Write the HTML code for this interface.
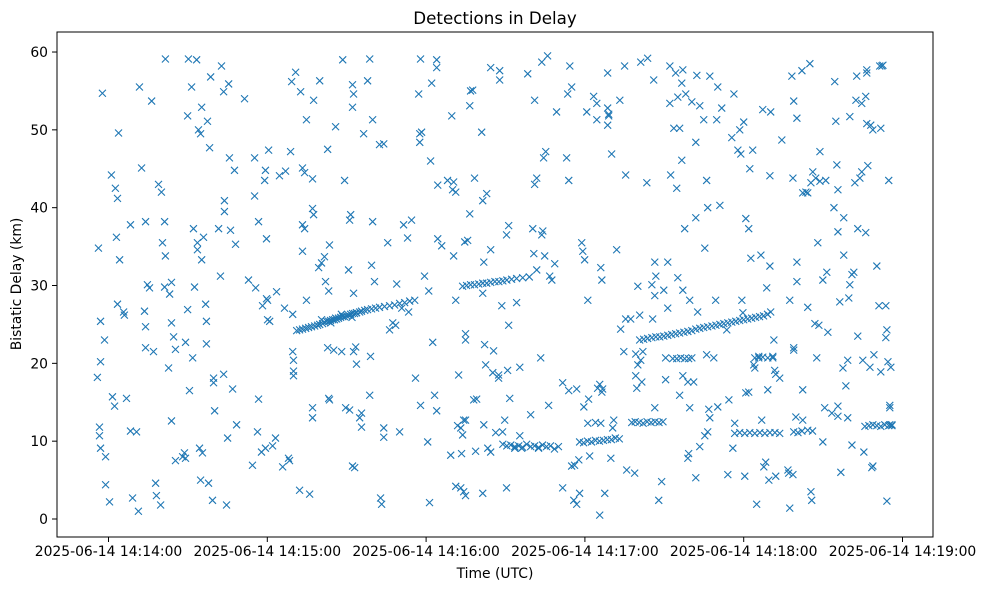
<!DOCTYPE html>
<html><head><meta charset="utf-8"><style>
body{margin:0;background:#fff;}
svg{display:block;font-family:"DejaVu Sans","Liberation Sans",sans-serif;}
</style></head><body>
<svg id="chart" width="986" height="590" viewBox="0 0 986 590" xmlns="http://www.w3.org/2000/svg">
<rect width="986" height="590" fill="#fff"/>
<text x="495" y="24" text-anchor="middle" font-size="16.7">Detections in Delay</text>
<text x="495" y="578" text-anchor="middle" font-size="13.9">Time (UTC)</text>
<text transform="translate(21,284) rotate(-90)" text-anchor="middle" font-size="13.9">Bistatic Delay (km)</text>
<g id="ticks"></g>
<g id="marks"></g>
<rect x="57" y="32" width="876" height="505" fill="none" stroke="#000" stroke-width="1"/>
</svg>
<script>
const xTickSeconds = [0, 60, 120, 180, 240, 300];
const xTickLabels = ["2025-06-14 14:14:00","2025-06-14 14:15:00","2025-06-14 14:16:00","2025-06-14 14:17:00","2025-06-14 14:18:00","2025-06-14 14:19:00"];
const yTickValues = [0, 10, 20, 30, 40, 50, 60];
// seconds after 14:14:00 UTC, bistatic delay km
const scatterDetections = [
[-4.2,18.2],[-3.8,34.8],[-3.4,11.8],[-3.4,10.7],[-3.0,9.1],[-3.0,20.2],[-3.0,25.4],[-2.3,54.7],[-1.5,23],[-1.1,8],[-1.1,4.4],[0.4,2.2],[1.1,44.2],[1.5,15.7],[2.3,14.5],[2.6,42.5],[3.4,41.2],[3.8,49.6],[3.0,36.2],[3.4,27.6],[4.2,33.3],[5.7,26.6],[6.0,26.2],[6.8,15.5],[8.3,37.8],[8.3,11.3],[9.1,2.7],[10.6,11.2],[11.3,1.0],[11.7,55.5],[12.5,45.1],[13.6,26.7],[14.0,24.7],[14.0,22.0],[14.0,38.2],[14.7,30.1],[15.5,29.7],[16.3,53.7],[17.0,21.5],[17.8,4.6],[18.1,3.0],[18.9,43.0],[19.7,1.8],[20.0,42.0],[20.4,35.5],[21.2,38.2],[21.5,59.1],[21.5,33.8],[21.2,29.8],[22.7,19.4],[23.1,28.9],[23.8,30.4],[23.8,12.6],[23.8,25.2],[24.6,23.4],[25.3,7.5],[25.3,21.8],[28.0,8.0],[28.7,8.5],[29.1,22.7],[29.1,7.8],[29.9,26.9],[29.9,51.8],[30.2,59.1],[30.6,16.5],[31.4,55.5],[31.8,20.7],[32.1,37.3],[32.5,29.8],[33.3,59.0],[33.6,35.5],[33.6,34.6],[34.0,50.0],[34.8,49.5],[34.4,9.1],[35.2,52.9],[35.2,33.3],[34.8,5.0],[35.5,8.5],[35.9,36.2],[36.7,27.6],[37.0,25.4],[37.0,22.5],[37.4,51.1],[38.2,47.7],[37.8,4.6],[38.6,56.8],[39.3,2.4],[39.7,18.1],[39.7,17.5],[40.1,13.9],[41.6,37.3],[42.3,31.2],[42.7,58.2],[43.5,54.9],[43.5,18.6],[43.8,40.9],[43.8,39.5],[44.6,1.8],[45.0,10.4],[45.4,55.9],[45.7,46.4],[46.1,37.1],[46.9,16.7],[47.6,44.8],[48.0,35.3],[48.4,12.1],[51.4,54.0],[52.9,30.7],[54.4,6.9],[55.2,46.4],[55.2,41.5],[55.6,29.7],[56.3,11.2],[56.7,15.4],[56.7,38.2],[57.8,8.6],[58.2,27.4],[59.0,43.5],[59.3,44.8],[59.3,9.1],[59.7,36.0],[59.7,28.3],[60.1,25.6],[60.1,28.1],[60.5,47.4],[60.9,25.4],[62.0,9.4],[63.1,10.4],[63.5,29.2],[64.6,44.1],[65.8,6.7],[66.5,27.1],[66.9,44.7],[68.0,7.8],[68.4,7.5],[68.8,47.2],[69.2,56.2],[69.6,26.3],[69.9,19.0],[69.6,21.5],[69.9,18.4],[69.9,20.4],[70.7,57.4],[72.2,3.7],[72.6,54.9],[73.3,34.4],[73.3,45.1],[73.3,37.8],[74.1,37.3],[74.8,28.1],[74.1,44.5],[74.8,51.3],[76.0,3.2],[77.1,39.9],[77.5,39.1],[77.1,14.3],[77.1,13.0],[77.1,43.7],[77.5,53.8],[79.4,32.3],[79.8,56.3],[80.5,32.9],[81.6,33.7],[82.0,30.5],[82.8,22.0],[82.8,47.5],[83.2,29.3],[83.5,35.2],[83.5,15.3],[83.2,15.5],[85.1,21.7],[85.8,25.8],[85.8,50.4],[88.1,21.5],[88.5,59.0],[89.2,43.5],[89.6,14.3],[90.7,32.0],[91.1,14.0],[91.5,39.1],[91.1,38.4],[92.2,52.9],[92.2,55.8],[92.6,54.6],[92.2,6.8],[93.0,6.6],[92.6,29.0],[93.4,22.1],[92.6,21.5],[93.7,19.9],[93.7,26.5],[94.9,13.0],[95.6,13.6],[96.4,49.5],[95.6,11.8],[97.9,56.3],[98.7,59.1],[99.8,38.2],[99.4,32.6],[99.8,51.3],[99.0,20.9],[98.7,15.9],[100.5,30.5],[102.4,48.1],[102.8,2.7],[103.2,1.9],[104.0,48.2],[104.0,11.7],[105.5,35.5],[104.0,10.5],[106.2,24.3],[107.4,25.2],[108.5,24.9],[108.9,30.2],[110.0,11.2],[110.8,27.1],[111.5,37.8],[113.0,36.1],[113.4,26.6],[114.5,38.4],[115.7,28.1],[116.0,18.1],[117.2,54.6],[117.9,14.6],[117.9,59.1],[117.6,48.4],[117.6,49.5],[118.3,49.7],[119.4,31.2],[120.6,9.9],[121.0,29.3],[121.3,2.1],[121.7,46.0],[122.1,56.0],[122.5,22.7],[123.2,15.9],[124.0,59.0],[124.0,58.0],[124.0,13.9],[124.4,36.0],[124.4,42.9],[125.9,35.1],[128.1,43.5],[129.3,8.2],[129.7,51.8],[130.0,42.3],[130.4,43.3],[131.2,42.0],[130.4,33.8],[131.2,28.1],[131.2,4.2],[131.9,12.0],[132.3,18.5],[133.1,4.0],[133.1,11.7],[133.4,8.4],[133.8,10.8],[134.2,12.7],[134.2,3.5],[134.6,35.6],[134.9,12.7],[134.9,3.0],[134.9,23.0],[134.9,23.8],[135.7,35.8],[136.5,53.1],[136.5,39.2],[136.8,55.0],[137.6,55.1],[138.0,15.3],[138.3,43.8],[139.1,15.4],[138.7,8.7],[141.0,49.7],[141.4,40.9],[141.4,3.3],[141.4,29.0],[141.8,12.1],[141.8,33.0],[142.5,19.8],[142.1,22.4],[142.9,41.8],[143.3,9.1],[144.4,58.0],[144.4,34.6],[144.4,8.6],[145.2,18.8],[145.5,21.6],[146.3,11.1],[147.4,18.5],[147.4,18.1],[147.8,57.6],[147.8,56.4],[148.6,27.4],[148.9,11.2],[149.7,12.7],[150.4,4.0],[150.4,36.5],[150.8,19.1],[151.2,37.7],[151.2,24.9],[151.6,15.5],[153.5,9.1],[154.2,27.8],[155.4,19.5],[155.4,10.7],[156.1,9.1],[158.4,57.2],[159.5,13.4],[160.3,37.3],[160.7,34.1],[161.0,53.8],[161.0,43.0],[161.8,43.8],[161.8,32.0],[162.5,9.1],[163.7,36.5],[163.3,20.7],[163.7,58.7],[164.1,37.0],[164.4,46.4],[164.8,33.8],[165.2,47.2],[165.9,59.5],[166.3,14.6],[166.7,31.2],[167.5,30.7],[168.6,32.8],[169.3,52.3],[171.6,4.0],[171.6,17.5],[173.1,46.4],[173.5,54.6],[173.9,43.5],[173.9,16.5],[174.3,58.2],[175.0,55.5],[175.0,6.8],[175.8,2.4],[176.1,6.9],[176.9,16.7],[176.9,1.9],[177.7,7.6],[178.0,3.3],[178.8,35.5],[179.2,34.4],[179.6,14.4],[179.9,33.3],[180.7,52.3],[181.1,28.1],[181.4,15.4],[181.8,8.1],[183.3,54.3],[184.5,53.4],[184.5,51.3],[184.8,16.8],[185.6,17.3],[186.0,32.3],[186.4,16.3],[186.4,30.7],[186.7,16.7],[185.6,0.5],[187.5,3.3],[188.6,57.3],[188.6,52.8],[189.0,51.8],[188.6,50.6],[189.0,52.0],[189.8,7.8],[190.1,46.9],[190.9,12.7],[190.5,11.7],[192.0,34.6],[193.2,53.8],[193.5,24.4],[194.7,21.5],[195.0,58.2],[195.4,44.2],[195.4,25.7],[195.8,6.3],[197.3,25.7],[198.8,5.9],[199.2,21.2],[199.2,18.4],[200.0,29.9],[199.6,16.8],[200.0,19.8],[200.7,26.2],[201.1,20.4],[201.1,58.7],[201.5,17.6],[201.9,21.5],[203.4,43.2],[203.7,59.2],[205.3,30.1],[205.6,25.7],[206.0,56.4],[206.4,14.3],[206.8,31.2],[206.4,33.0],[206.4,28.7],[207.9,2.4],[209.0,4.8],[209.8,29.4],[210.5,17.9],[210.5,20.7],[211.3,33.0],[211.3,27.1],[212.1,58.2],[212.1,53.4],[212.4,44.2],[213.6,50.2],[214.3,57.3],[214.7,42.5],[215.1,54.2],[215.1,31.0],[215.8,15.9],[215.8,50.2],[216.6,56.0],[216.6,46.1],[217.0,57.7],[217.0,29.4],[217.0,18.4],[217.7,37.3],[218.1,54.6],[218.9,17.6],[218.9,7.8],[219.2,8.4],[219.6,28.1],[219.6,14.3],[220.4,53.6],[221.1,17.6],[221.9,5.3],[221.9,38.7],[221.9,48.4],[222.3,57.0],[222.6,26.6],[223.4,53.1],[223.4,9.3],[224.9,51.3],[225.3,34.8],[225.3,10.7],[226.0,43.5],[226.0,21.1],[226.4,11.2],[227.2,13.0],[226.8,14.1],[227.2,56.9],[226.4,40.0],[228.7,20.7],[229.4,28.1],[229.8,51.3],[230.2,14.4],[230.2,55.5],[231.7,52.8],[231.0,40.3],[233.6,24.3],[234.0,5.7],[234.4,15.3],[235.5,49.0],[235.9,9.1],[236.3,54.6],[236.6,12.3],[237.8,47.4],[238.5,50.0],[238.9,46.9],[239.3,28.1],[239.7,26.5],[240.0,51.0],[240.4,5.5],[240.8,38.6],[240.8,16.2],[241.9,16.3],[241.9,37.3],[242.3,45.0],[242.7,33.5],[243.4,47.4],[243.8,19.8],[244.2,19.4],[244.9,1.9],[245.7,20.7],[246.5,33.9],[246.8,12.7],[247.2,52.6],[247.6,6.7],[248.3,7.3],[248.7,29.7],[249.1,16.6],[249.5,5.0],[249.9,32.5],[249.9,44.1],[250.2,52.3],[251.0,20.7],[251.4,23.0],[251.7,19.1],[252.1,5.5],[252.1,18.6],[253.6,18.1],[254.4,48.7],[256.7,6.3],[257.0,5.9],[257.4,28.1],[257.4,1.4],[258.2,56.9],[258.6,5.7],[258.6,43.8],[258.9,21.7],[258.9,22.0],[258.9,53.7],[259.7,13.1],[260.1,30.5],[260.1,33.0],[260.1,51.5],[262.0,57.6],[262.3,16.6],[262.3,41.9],[262.3,12.7],[263.5,42.0],[264.2,41.9],[264.2,27.2],[265.0,58.5],[265.4,43.2],[265.4,3.5],[265.7,2.4],[266.1,44.6],[266.9,25.1],[267.2,43.8],[267.6,20.7],[268.0,35.5],[268.4,24.9],[268.8,47.2],[268.8,43.4],[269.9,9.9],[269.9,30.7],[270.6,14.3],[271.0,43.5],[271.4,31.7],[271.8,24.0],[273.3,13.6],[274.1,40.0],[274.4,56.2],[274.8,51.1],[275.2,45.5],[275.6,13.2],[275.6,42.3],[275.6,14.5],[275.6,36.9],[276.3,27.9],[276.7,6.0],[277.5,19.4],[277.8,33.9],[277.8,38.7],[278.6,17.1],[279.3,20.4],[279.3,13.0],[279.7,28.4],[280.1,30.1],[280.1,51.7],[280.9,9.5],[280.9,31.4],[281.6,31.7],[282.0,43.2],[282.4,53.8],[282.7,56.9],[283.1,37.3],[283.1,23.5],[283.9,43.8],[284.6,53.4],[284.6,44.6],[285.0,20.4],[285.4,8.6],[286.1,54.3],[286.1,36.8],[286.5,57.7],[286.5,57.3],[286.5,50.8],[286.9,45.4],[287.7,19.5],[288.0,50.6],[288.4,6.6],[288.8,6.8],[288.8,50.0],[289.2,21.1],[290.3,32.5],[291.1,27.4],[291.4,58.2],[291.8,18.9],[291.8,50.2],[292.2,58.2],[292.6,58.3],[293.7,27.4],[293.7,23.3],[294.1,2.3],[294.1,24.3],[294.5,20.2],[294.8,43.5],[295.2,14.6],[295.2,14.3],[295.2,12.1],[295.6,19.5],[296.0,12.0]
];
const trackDetections = [
[71.1,24.2],[72.2,24.3],[73.3,24.4],[74.5,24.5],[75.6,24.6],[76.7,24.7],[77.9,24.8],[79.0,24.9],[79.8,25.0],[80.9,25.1],[81.6,25.3],[82.4,25.4],[83.2,25.4],[83.9,25.5],[84.7,25.6],[85.4,25.6],[86.2,25.7],[86.9,25.8],[87.7,25.9],[88.5,26.0],[89.2,26.0],[90.0,26.1],[90.7,26.2],[91.5,26.3],[92.2,26.4],[93.0,26.4],[93.7,26.5],[94.9,26.6],[95.6,26.7],[96.8,26.8],[97.9,26.9],[99.4,27.0],[100.9,27.1],[102.4,27.2],[104.3,27.3],[106.2,27.4],[108.1,27.5],[110.0,27.7],[111.9,27.8],[113.8,28.0],[80.5,25.6],[84.0,25.2],[88.0,26.3],[92.0,25.9],
[133.8,29.9],[135.3,30.0],[136.8,30.1],[138.3,30.1],[139.9,30.2],[141.4,30.3],[142.9,30.3],[144.4,30.4],[146.0,30.5],[147.5,30.5],[149.0,30.6],[150.5,30.7],[152.3,30.8],[154.2,30.9],[156.5,31.0],[159.0,31.1],
[149,9.6],[150.5,9.4],[152,9.5],[153.5,9.3],[155,9.4],[156.5,9.2],[158,9.6],[159.5,9.3],[161,9.4],[162.5,9.2],[164,9.5],[165.5,9.3],[167,9.4],[168.5,9.0],[170,9.3],
[178,9.9],[179.5,9.8],[181,10.0],[182.5,9.9],[184,10.1],[185.5,10.0],[187,10.1],[188.5,10.2],[190,10.2],[191.5,10.4],[193,10.3],[181.1,12.3],[184,12.4],[186,12.3],
[197.7,12.4],[199,12.5],[200.5,12.4],[202,12.3],[203.5,12.5],[205,12.4],[206.5,12.5],[208,12.4],[209.5,12.5],
[200.7,23.0],[202.2,23.1],[203.7,23.2],[205.3,23.3],[206.8,23.4],[208.3,23.4],[209.8,23.5],[211.3,23.6],[212.8,23.7],[214.3,23.8],[215.8,23.9],[217.4,24.0],[218.9,24.1],[220.4,24.2],[221.9,24.4],[223.4,24.5],[224.9,24.6],[226.4,24.7],[228.0,24.8],[229.5,24.9],[231.0,25.0],[232.5,25.1],[234.0,25.2],[235.5,25.3],[237.0,25.4],[238.5,25.5],[240.0,25.6],[241.5,25.7],[243.0,25.8],[244.5,25.9],[246.0,26.0],[247.5,26.1],[249.0,26.3],[250.2,26.6],
[213.2,20.6],[214.7,20.6],[216.2,20.7],[217.7,20.6],[219.2,20.6],[220.4,20.7],
[236.6,11.0],[238.5,11.1],[240.4,11.0],[242.3,11.1],[244.2,11.0],[246.1,11.1],[248.0,11.0],[249.9,11.1],[251.8,11.1],[253.6,11.0],[258.9,11.2],[260.5,11.1],[262,11.3],[266,11.3],[264.2,11.4],
[244.2,20.7],[245.7,20.9],[247.2,20.8],[249.1,20.7],[251,20.9],
[285.8,11.9],[287.3,12.0],[288.8,12.1],[290.3,12.0],[291.8,11.9],[293.3,12.1],[294.8,12.0],[296,12.1]
];

const NS = "http://www.w3.org/2000/svg";
function xScale(t){ return 108.5 + t * (158.8 / 60); }
function yScale(d){ return 519 - d * 7.783; }

const ticks = document.getElementById('ticks');
xTickSeconds.forEach((s, i) => {
  const x = xScale(s);
  const ln = document.createElementNS(NS, 'line');
  ln.setAttribute('x1', x); ln.setAttribute('x2', x);
  ln.setAttribute('y1', 537); ln.setAttribute('y2', 542);
  ln.setAttribute('stroke', '#000');
  
  
  ticks.appendChild(ln);
  const tx = document.createElementNS(NS, 'text');
  tx.setAttribute('x', x); tx.setAttribute('y', 556);
  tx.setAttribute('text-anchor', 'middle'); tx.setAttribute('font-size', '13.9');
  tx.textContent = xTickLabels[i];
  
  
  ticks.appendChild(tx);
});
yTickValues.forEach(v => {
  const y = yScale(v);
  const ln = document.createElementNS(NS, 'line');
  ln.setAttribute('x1', 52); ln.setAttribute('x2', 57);
  ln.setAttribute('y1', y); ln.setAttribute('y2', y);
  ln.setAttribute('stroke', '#000');
  
  
  ticks.appendChild(ln);
  const tx = document.createElementNS(NS, 'text');
  tx.setAttribute('x', 48); tx.setAttribute('y', y + 5);
  tx.setAttribute('text-anchor', 'end'); tx.setAttribute('font-size', '13.9');
  tx.textContent = String(v);
  
  
  ticks.appendChild(tx);
});

const marks = document.getElementById('marks');
function drawPoint(p){
  const cx = xScale(p[0]), cy = yScale(p[1]), r = 3.5;
  const path = document.createElementNS(NS, 'path');
  path.setAttribute('d', `M${cx-r},${cy-r}L${cx+r},${cy+r}M${cx-r},${cy+r}L${cx+r},${cy-r}`);
  path.setAttribute('stroke', '#1f77b4');
  path.setAttribute('stroke-width', '1.1');
  path.setAttribute('fill', 'none');
  
  
  marks.appendChild(path);
}
scatterDetections.forEach(drawPoint);
trackDetections.forEach(drawPoint);
</script>
</body></html>
